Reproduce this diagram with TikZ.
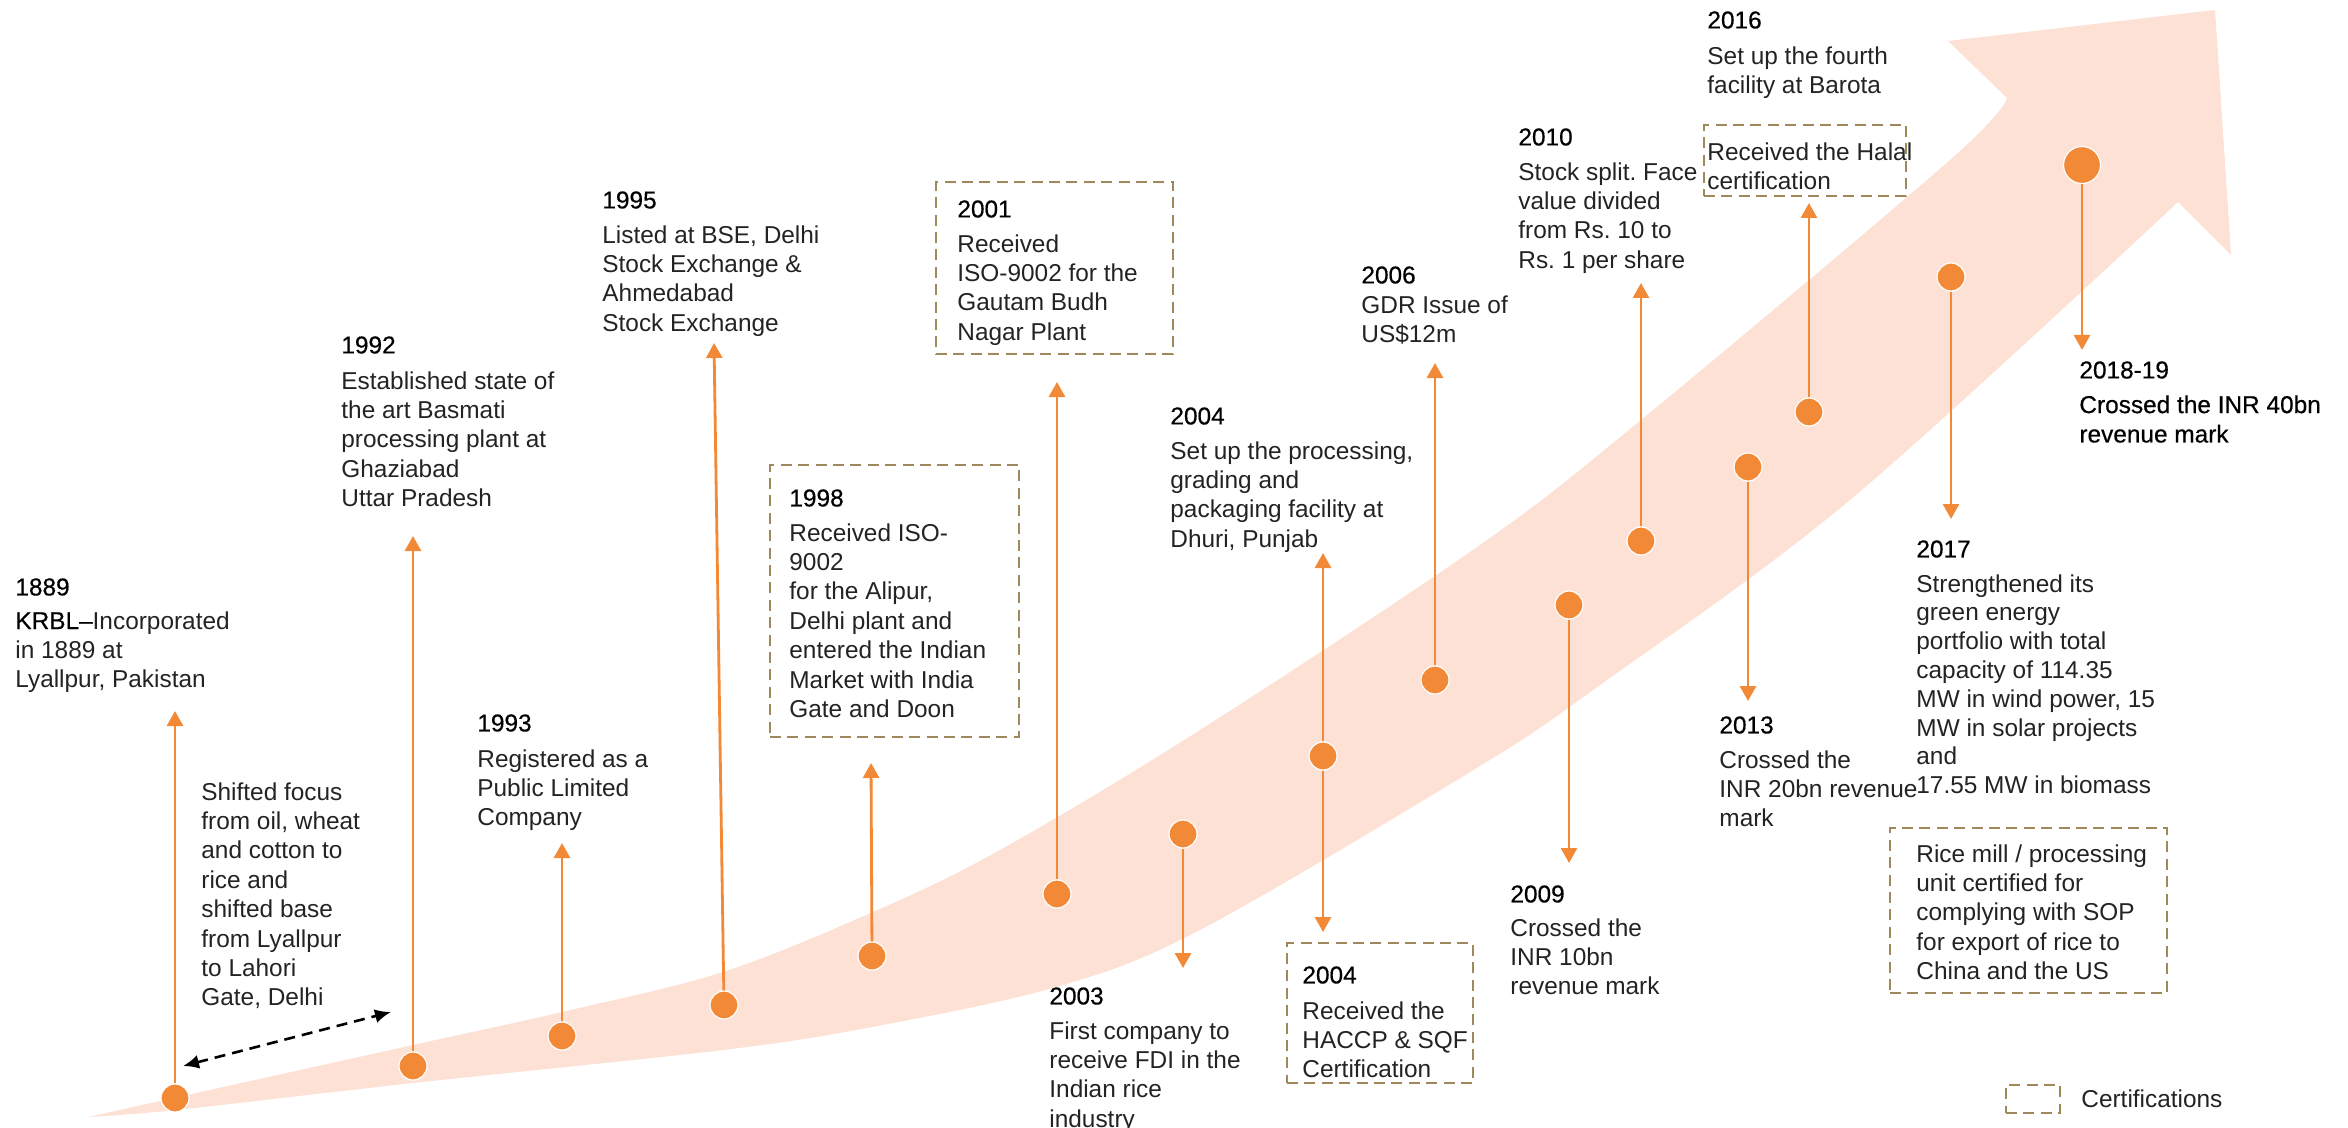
\documentclass[tikz,border=0pt]{standalone}
\usepackage{fontspec}
\setmainfont{Liberation Sans}
\newfontfamily\yrfamily{Liberation Sans}[FakeBold=0.5]
\usetikzlibrary{arrows.meta,fit}
\frenchspacing
\definecolor{org}{RGB}{242,137,54}
\definecolor{bandc}{RGB}{252,225,212}
\definecolor{cert}{RGB}{158,136,92}
\definecolor{txt}{RGB}{35,35,35}
\tikzset{
  tdot/.style={circle, fill=org, draw=white, line width=0.6pt, minimum size=14pt, inner sep=0pt},
  bigdot/.style={tdot, minimum size=18.5pt},
  conn/.style={draw=org, line width=1.4pt, -{Triangle[width=8pt,length=7.5pt]}},
  yr/.style={anchor=north west, inner sep=0pt, align=left, font=\yrfamily\fontsize{12.2pt}{14.7pt}\selectfont, text=black},
  bd/.style={anchor=north west, inner sep=0pt, align=left, font=\fontsize{12.2pt}{14.7pt}\selectfont, text=txt},
  certbox/.style={draw=cert, line width=1.3pt, dash pattern=on 5.5pt off 3.2pt, inner sep=0pt},
  dbl/.style={draw=black, line width=1.3pt, dash pattern=on 5.5pt off 3.5pt, {Latex[length=8pt,width=7pt]}-{Latex[length=8pt,width=7pt]}},
}
\begin{document}
\begin{tikzpicture}[x=0.5pt,y=-0.5pt]
\useasboundingbox (0,0) rectangle (2348,1128);
% band arrow
\fill[bandc] plot[smooth, tension=0.55] coordinates {(88,1117) (413,1045) (562,1012) (723,972) (873,912) (1000,850) (1200,730) (1480,545) (1641,420) (1950,160) (2007,98)}
  -- (1948,41) -- (2215,10) -- (2231,255) -- (2178,202)
  -- plot[smooth, tension=0.55] coordinates {(2178,202) (1850,500) (1600,685) (1480,766) (1200,930) (1056,987) (872,1027) (723,1050) (413,1083) (176,1110) (88,1117)} -- cycle;

% dots
\node[tdot] (d1889) at (175,1098) {};
\node[tdot] (d1992) at (413,1066) {};
\node[tdot] (d1993) at (562,1036) {};
\node[tdot] (d1995) at (724,1005) {};
\node[tdot] (d1998) at (872,956) {};
\node[tdot] (d2001) at (1057,894) {};
\node[tdot] (d2003) at (1183,834) {};
\node[tdot] (d2004) at (1323,756) {};
\node[tdot] (d2006) at (1435,680) {};
\node[tdot] (d2009) at (1569,605) {};
\node[tdot] (d2010) at (1641,541) {};
\node[tdot] (d2013) at (1748,467) {};
\node[tdot] (d2016) at (1809,412) {};
\node[tdot] (d2017) at (1951,277) {};
\node[bigdot] (d2018) at (2082,165) {};

% arrow tips
\coordinate (t1889) at (175,711);
\coordinate (t1992) at (413,536);
\coordinate (t1993) at (562,843);
\coordinate (t1995) at (714,343);
\coordinate (t1998) at (871,763);
\coordinate (t2001) at (1057,382);
\coordinate (t2003) at (1183,968);
\coordinate (t2004u) at (1323,553);
\coordinate (t2004d) at (1323,932);
\coordinate (t2006) at (1435,363);
\coordinate (t2009) at (1569,863);
\coordinate (t2010) at (1641,283);
\coordinate (t2013) at (1748,701);
\coordinate (t2016) at (1809,203);
\coordinate (t2017) at (1951,519);
\coordinate (t2018) at (2082,350);
\coordinate (da) at (183,1066);
\coordinate (db) at (391,1012);

% connectors
\draw[conn] (d1889) -- (t1889);
\draw[conn] (d1992) -- (t1992);
\draw[conn] (d1993) -- (t1993);
\draw[conn] (d1995) -- (t1995);
\draw[conn] (d1998) -- (t1998);
\draw[conn] (d2001) -- (t2001);
\draw[conn] (d2003) -- (t2003);
\draw[conn] (d2004) -- (t2004u);
\draw[conn] (d2004) -- (t2004d);
\draw[conn] (d2006) -- (t2006);
\draw[conn] (d2009) -- (t2009);
\draw[conn] (d2010) -- (t2010);
\draw[conn] (d2013) -- (t2013);
\draw[conn] (d2016) -- (t2016);
\draw[conn] (d2017) -- (t2017);
\draw[conn] (d2018) -- (t2018);
\draw[dbl] (da) -- (db);

% certification boxes
\node[certbox, fit={(770,465) (1019,737)}] (c1998) {};
\node[certbox, fit={(936,182) (1173,354)}] (c2001) {};
\node[certbox, fit={(1287,943) (1473,1083)}] (c2004) {};
\node[certbox, fit={(1704,125) (1906,196)}] (chalal) {};
\node[certbox, fit={(1890,828) (2167,993)}] (crice) {};
\node[certbox, minimum width=27pt, minimum height=14pt] (leg) at (2033,1099) {};

% texts
\node[yr] (y1889) at (15,578) {1889};
\node[bd] (b1889) at (15,611) {{\yrfamily\color{black}KRBL–}Incorporated\\in 1889 at\\Lyallpur, Pakistan};
\node[bd] (bshift) at (201,782) {Shifted focus\\from oil, wheat\\and cotton to\\rice and\\shifted base\\from Lyallpur\\to Lahori\\Gate, Delhi};
\node[yr] (y1992) at (341,336) {1992};
\node[bd] (b1992) at (341,371) {Established state of\\the art Basmati\\processing plant at\\Ghaziabad\\Uttar Pradesh};
\node[yr] (y1993) at (477,714) {1993};
\node[bd] (b1993) at (477,749) {Registered as a\\Public Limited\\Company};
\node[yr] (y1995) at (602,191) {1995};
\node[bd] (b1995) at (602,225) {Listed at BSE, Delhi\\Stock Exchange \&\\Ahmedabad\\Stock Exchange};
\node[yr] (y1998) at (789,489) {1998};
\node[bd] (b1998) at (789,523) {Received ISO-\\9002\\for the Alipur,\\Delhi plant and\\entered the Indian\\Market with India\\Gate and Doon};
\node[yr] (y2001) at (957,200) {2001};
\node[bd] (b2001) at (957,234) {Received\\ISO-9002 for the\\Gautam Budh\\Nagar Plant};
\node[yr] (y2003) at (1049,987) {2003};
\node[bd] (b2003) at (1049,1021) {First company to\\receive FDI in the\\Indian rice\\industry};
\node[yr] (y2004a) at (1170,407) {2004};
\node[bd] (b2004a) at (1170,441) {Set up the processing,\\grading and\\packaging facility at\\Dhuri, Punjab};
\node[yr] (y2004b) at (1302,966) {2004};
\node[bd] (b2004b) at (1302,1001) {Received the\\HACCP \& SQF\\Certification};
\node[yr] (y2006) at (1361,266) {2006};
\node[bd] (b2006) at (1361,295) {GDR Issue of\\US\$12m};
\node[yr] (y2009) at (1510,885) {2009};
\node[bd] (b2009) at (1510,918) {Crossed the\\INR 10bn\\revenue mark};
\node[yr] (y2010) at (1518,128) {2010};
\node[bd] (b2010) at (1518,162) {Stock split. Face\\value divided\\from Rs. 10 to\\Rs. 1 per share};
\node[yr] (y2013) at (1719,716) {2013};
\node[bd] (b2013) at (1719,750) {Crossed the\\INR 20bn revenue\\mark};
\node[yr] (y2016) at (1707,11) {2016};
\node[bd] (b2016) at (1707,46) {Set up the fourth\\facility at Barota};
\node[bd] (bhalal) at (1707,142) {Received the Halal\\certification};
\node[yr] (y2017) at (1916,540) {2017};
\node[bd, font=\fontsize{12.2pt}{14.4pt}\selectfont] (b2017) at (1916,574) {Strengthened its\\green energy\\portfolio with total\\capacity of 114.35\\MW in wind power, 15\\MW in solar projects\\and\\17.55 MW in biomass};
\node[bd] (brice) at (1916,844) {Rice mill / processing\\unit certified for\\complying with SOP\\for export of rice to\\China and the US};
\node[yr] (y2018) at (2079,361) {2018-19};
\node[yr] (b2018) at (2079,395) {Crossed the INR 40bn\\revenue mark};
\node[bd, anchor=west] (legt) at (2081,1099) {Certifications};
\end{tikzpicture}
\end{document}
